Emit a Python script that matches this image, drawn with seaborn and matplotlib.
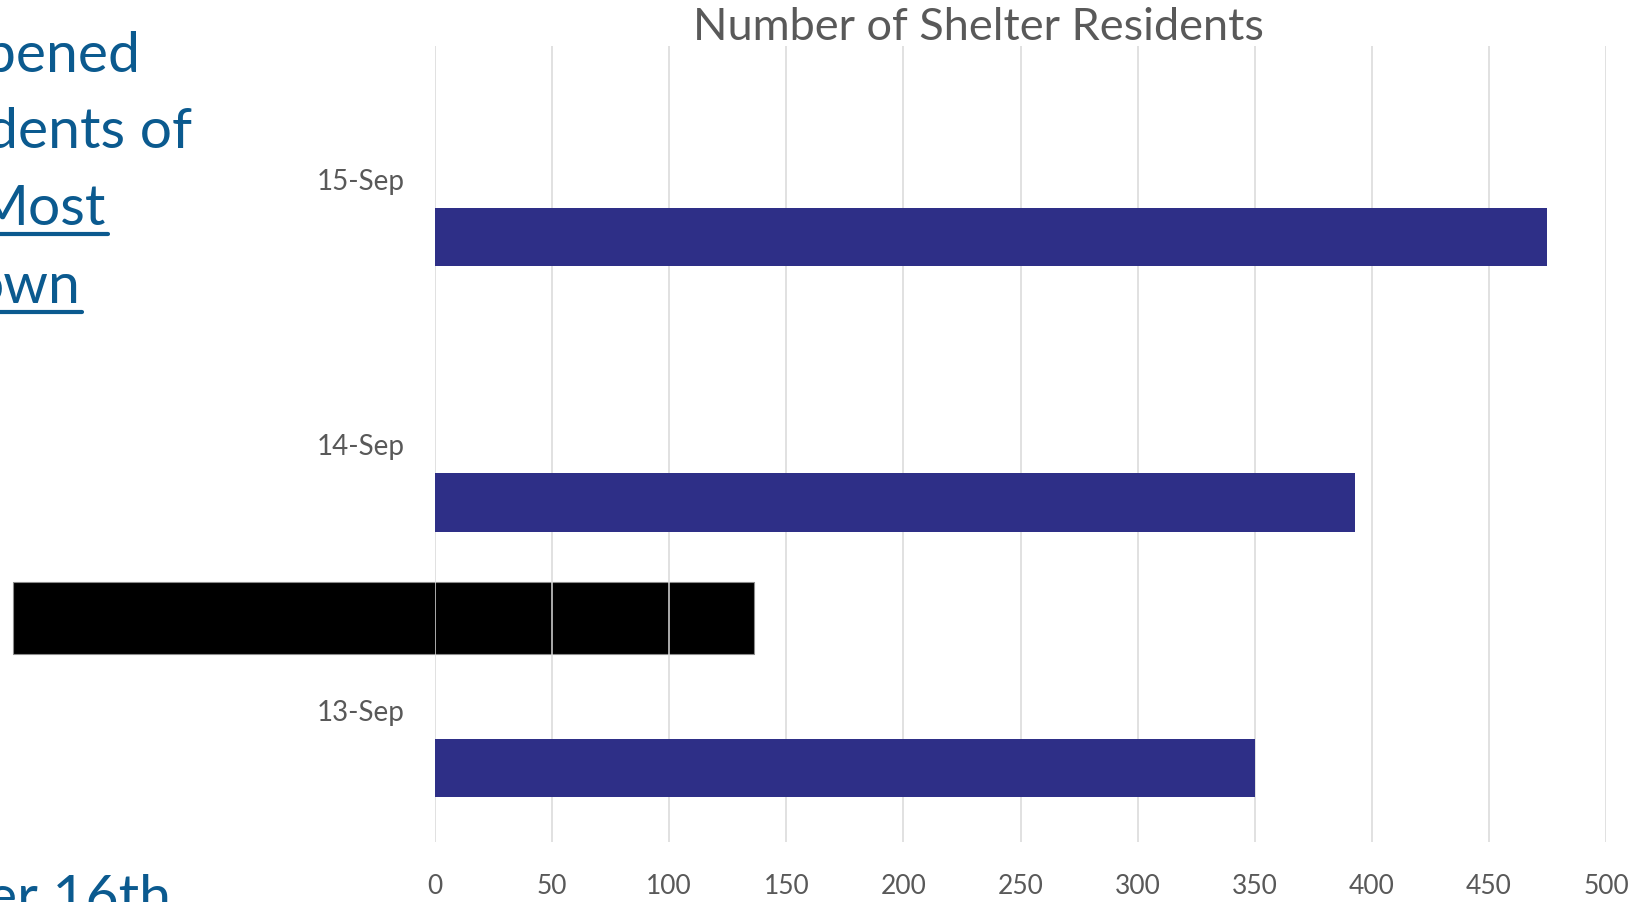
import matplotlib
matplotlib.use("Agg")
import matplotlib.pyplot as plt
from matplotlib.patches import Rectangle
from matplotlib.lines import Line2D
import seaborn as sns
import pandas as pd

# Shelter residents per day
dates = ["15-Sep", "14-Sep", "13-Sep"]
residents = [475, 393, 350]
# Chart has two empty series ahead of the residents series
series = ["blank_a", "blank_b", "Residents"]
x_ticks = [0, 50, 100, 150, 200, 250, 300, 350, 400, 450, 500]

title = "Number of Shelter Residents"
side_lines = ["pened", "dents of", "Most", "own", "er 16th"]
underlined = [False, False, True, True, False]

W, H, DPI = 1652, 903, 100
BLUE_TEXT = "#0B5A8F"
BAR = "#2E2F87"
GREY = "#595959"
FONT = "Lato"

sns.set_theme(style="white")
plt.rcParams["font.family"] = [FONT, "DejaVu Sans"]

rows = []
for d, v in zip(dates, residents):
    for s in series:
        rows.append({"date": d, "series": s, "value": v if s == "Residents" else 0})
df = pd.DataFrame(rows)

fig = plt.figure(figsize=(W / DPI, H / DPI), dpi=DPI)
ax = fig.add_axes([435 / W, 1 - 843 / H, 1171 / W, 796 / H])

sns.barplot(data=df, y="date", x="value", hue="series", order=dates,
            hue_order=series, palette=["#ffffff", "#ffffff", BAR],
            saturation=1, orient="h", width=0.66, linewidth=0,
            legend=False, ax=ax)

ax.set_xlim(0, 500)
ax.set_xticks(x_ticks)
ax.set_xlabel("")
ax.set_ylabel("")
ax.set_axisbelow(True)
ax.grid(axis="x", color="#d9d9d9", linewidth=1.1, zorder=0.5)
ax.grid(axis="y", visible=False)
for sp in ax.spines.values():
    sp.set_visible(False)
ax.tick_params(axis="x", length=0, pad=22, labelsize=19, labelcolor=GREY)
ax.tick_params(axis="y", length=0, pad=22, labelsize=20, labelcolor=GREY)

# black box laid over the 13/14-Sep gap, behind the gridlines
ax.add_patch(Rectangle((-180, 1.52), 316, 0.27, facecolor="black",
                       edgecolor="#8c8c8c", linewidth=0.8, zorder=0.3,
                       clip_on=False))

fig.text(978 / W, 1 - 28 / H, title, ha="center", va="center",
         fontsize=32.5, color=GREY)

# left-hand slide text, running off the left edge
right_edges = [140, 192, 106, 80, 171]
baselines = [72, 148, 225, 303, 915]
texts = []
for s, x1, yb in zip(side_lines, right_edges, baselines):
    t = fig.text(x1 / W, 1 - yb / H, s, ha="right", va="baseline",
                 fontsize=41, color=BLUE_TEXT)
    texts.append(t)

fig.canvas.draw()
r = fig.canvas.get_renderer()
for t, u, yb in zip(texts, underlined, baselines):
    if u:
        bb = t.get_window_extent(r)
        yy = 1 - (yb + 10) / H
        fig.add_artist(Line2D([0, (bb.x1 + 2) / W], [yy, yy], color=BLUE_TEXT,
                              linewidth=3, transform=fig.transFigure))

fig.savefig("out.png", dpi=DPI)
